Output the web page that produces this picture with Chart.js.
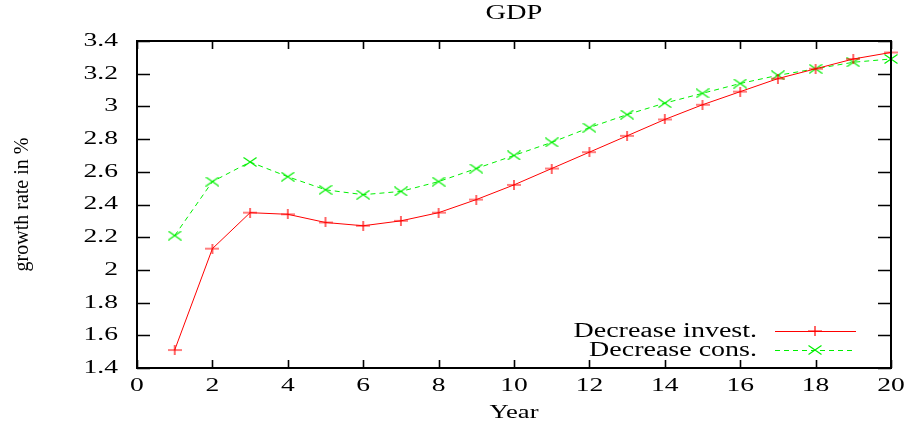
<!DOCTYPE html>
<html>
<head>
<meta charset="utf-8">
<script src="https://cdn.jsdelivr.net/npm/chart.js@4.4.1/dist/chart.umd.min.js"></script>
<style>
  html, body { margin: 0; padding: 0; background: #fff; }
  #wrap { width: 911px; height: 428px; position: relative; }
</style>
</head>
<body>
<div id="wrap"><canvas id="chart"></canvas></div>
<script>
const years = [1, 2, 3, 4, 5, 6, 7, 8, 9, 10, 11, 12, 13, 14, 15, 16, 17, 18, 19, 20];
const decreaseInvest = [1.51, 2.13, 2.35, 2.34, 2.29, 2.27, 2.30, 2.35, 2.43, 2.52, 2.62, 2.72, 2.82, 2.92, 3.01, 3.09, 3.17, 3.23, 3.29, 3.33];
const decreaseCons = [2.21, 2.54, 2.66, 2.57, 2.49, 2.46, 2.48, 2.54, 2.62, 2.70, 2.78, 2.87, 2.95, 3.02, 3.08, 3.14, 3.19, 3.23, 3.27, 3.29];
const seriesNames = ['Decrease invest.', 'Decrease cons.'];
const chartTitle = 'GDP';
const xTitle = 'Year';
const yTitle = 'growth rate in %';

const SERIF = '"Liberation Serif", "Times New Roman", serif';

// gnuplot style markers, a bit wider than tall like the original
function makeMarker(kind, color) {
    const w = 14, h = 10;
    const c = document.createElement('canvas');
    c.width = w; c.height = h;
    const g = c.getContext('2d');
    g.strokeStyle = color;
    g.lineWidth = 1.2;
    g.beginPath();
    if (kind === 'plus') {
        g.moveTo(0, h / 2); g.lineTo(w, h / 2);
        g.moveTo(w / 2, 0); g.lineTo(w / 2, h);
    } else {
        g.moveTo(0.5, 0.5); g.lineTo(w - 0.5, h - 0.5);
        g.moveTo(w - 0.5, 0.5); g.lineTo(0.5, h - 0.5);
    }
    g.stroke();
    return c;
}
const plusRed = makeMarker('plus', '#ff0000');
const crossGreen = makeMarker('cross', '#00f000');

// text stretched horizontally, as in the source picture
function stretchedText(ctx, text, x, y, size, sx, align) {
    ctx.save();
    ctx.font = size + 'px ' + SERIF;
    ctx.fillStyle = '#000';
    ctx.textBaseline = 'middle';
    const w = ctx.measureText(text).width * sx;
    let left = x;
    if (align === 'center') left = x - w / 2;
    else if (align === 'right') left = x - w;
    ctx.translate(left, y);
    ctx.scale(sx, 1);
    ctx.textAlign = 'left';
    ctx.fillText(text, 0, 0);
    ctx.restore();
}

function fmt(v) {
    return String(parseFloat(v.toFixed(1)));
}

const gnuplotFrame = {
    id: 'gnuplotFrame',
    afterDraw(chart) {
        const { ctx, chartArea: { left, right, top, bottom }, scales: { x, y } } = chart;
        ctx.save();
        ctx.strokeStyle = '#000';
        ctx.lineWidth = 1.6;

        // inward ticks on all four sides
        ctx.beginPath();
        x.ticks.forEach(t => {
            const px = Math.round(x.getPixelForValue(t.value)) + 0.5;
            ctx.moveTo(px, bottom); ctx.lineTo(px, bottom - 8);
            ctx.moveTo(px, top); ctx.lineTo(px, top + 8);
        });
        y.ticks.forEach(t => {
            const py = Math.round(y.getPixelForValue(t.value)) + 0.5;
            ctx.moveTo(left, py); ctx.lineTo(left + 13, py);
            ctx.moveTo(right, py); ctx.lineTo(right - 13, py);
        });
        ctx.stroke();

        ctx.lineWidth = 2;
        ctx.strokeRect(left, top, right - left, bottom - top);
        ctx.restore();

        // tick labels
        x.ticks.forEach(t => {
            stretchedText(ctx, fmt(t.value), x.getPixelForValue(t.value), bottom + 18, 19, 1.45, 'center');
        });
        y.ticks.forEach(t => {
            stretchedText(ctx, fmt(t.value), left - 19, y.getPixelForValue(t.value), 19, 1.45, 'right');
        });

        // titles
        stretchedText(ctx, chartTitle, (left + right) / 2, 14, 20, 1.42, 'center');
        stretchedText(ctx, xTitle, (left + right) / 2, 413, 19, 1.4, 'center');

        ctx.save();
        ctx.translate(23, (top + bottom) / 2);
        ctx.rotate(-Math.PI / 2);
        ctx.font = '20px ' + SERIF;
        ctx.fillStyle = '#000';
        ctx.textAlign = 'center';
        ctx.textBaseline = 'middle';
        ctx.fillText(yTitle, 0, 0);
        ctx.restore();

        // key, bottom right inside the frame
        const keys = [
            { y: 331, color: '#ff0000', dash: [], marker: plusRed },
            { y: 350, color: '#00f000', dash: [5, 4], marker: crossGreen }
        ];
        keys.forEach((k, i) => {
            stretchedText(ctx, seriesNames[i], 757, k.y + 1, 20, 1.4, 'right');
            ctx.save();
            ctx.strokeStyle = k.color;
            ctx.lineWidth = 1;
            ctx.setLineDash(k.dash);
            ctx.beginPath();
            ctx.moveTo(775, k.y + 0.5);
            ctx.lineTo(856, k.y + 0.5);
            ctx.stroke();
            ctx.restore();
            ctx.drawImage(k.marker, 815 - k.marker.width / 2, k.y - k.marker.height / 2);
        });
    }
};

new Chart(document.getElementById('chart').getContext('2d'), {
    type: 'line',
    data: {
        datasets: [{
            label: seriesNames[0],
            data: years.map((yr, i) => ({ x: yr, y: decreaseInvest[i] })),
            borderColor: '#ff0000',
            borderWidth: 1,
            pointStyle: plusRed,
            pointRadius: 7,
            tension: 0,
            clip: false
        }, {
            label: seriesNames[1],
            data: years.map((yr, i) => ({ x: yr, y: decreaseCons[i] })),
            borderColor: '#00f000',
            borderWidth: 1,
            borderDash: [5, 4],
            pointStyle: crossGreen,
            pointRadius: 7,
            tension: 0,
            clip: false
        }]
    },
    options: {
        responsive: true,
        maintainAspectRatio: false,
        animation: false,
        events: [],
        layout: { padding: { left: 137, right: 20, top: 41, bottom: 60 } },
        plugins: {
            legend: { display: false },
            title: { display: false },
            tooltip: { enabled: false }
        },
        scales: {
            x: {
                type: 'linear',
                min: 0,
                max: 20,
                ticks: { stepSize: 2, display: false },
                grid: { display: false, drawTicks: false },
                border: { display: false }
            },
            y: {
                min: 1.4,
                max: 3.4,
                ticks: { stepSize: 0.2, display: false },
                grid: { display: false, drawTicks: false },
                border: { display: false }
            }
        }
    },
    plugins: [gnuplotFrame]
});
</script>
</body>
</html>
